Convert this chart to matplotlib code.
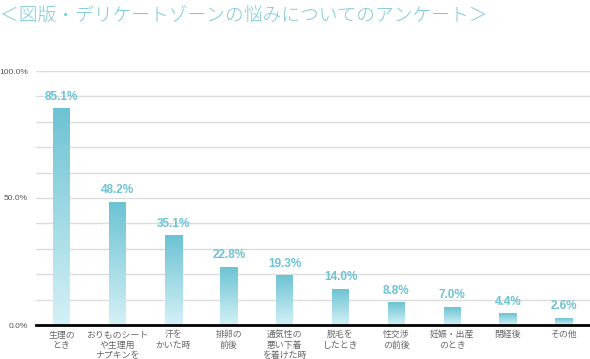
import matplotlib
matplotlib.use('Agg')
import matplotlib.pyplot as plt
import numpy as np
from matplotlib.colors import LinearSegmentedColormap

plt.rcParams['font.family'] = ['Noto Sans CJK JP', 'DejaVu Sans']

title = '＜図版・デリケートゾーンの悩みについてのアンケート＞'
categories = ['生理の\nとき', 'おりものシート\nや生理用\nナプキンを', '汗を\nかいた時',
              '排卵の\n前後', '通気性の\n悪い下着\nを着けた時', '脱毛を\nしたとき',
              '性交渉\nの前後', '妊娠・出産\nのとき', '閉経後', 'その他']
values = [85.1, 48.2, 35.1, 22.8, 19.3, 14.0, 8.8, 7.0, 4.4, 2.6]
yticks = [0, 50, 100]
ytick_labels = ['0.0%', '50.0%', '100.0%']

W, H = 590, 359
fig = plt.figure(figsize=(W / 100, H / 100), dpi=100)
ax = fig.add_axes([36 / W, 34 / H, 554 / W, 254 / H])

step = 55.8
x0 = 61.5

for y in range(10, 101, 10):
    ax.axhline(y, color='#dcdcdc', lw=1, zorder=0)
ax.axhline(0, color='black', lw=2, zorder=3, clip_on=False)

cmap = LinearSegmentedColormap.from_list('bar', ['#d4f1f6', '#6cc3d3'])
grad = np.linspace(0, 1, 256).reshape(-1, 1)
bw = 17 / step
for i, v in enumerate(values):
    ax.imshow(grad, cmap=cmap, origin='lower', aspect='auto',
              extent=(i - bw / 2, i + bw / 2, 0, v), zorder=2)
    ax.text(i, v + 2.4, '%.1f%%' % v, ha='center', va='bottom',
            fontsize=8.5, fontweight='bold', color='#6cc3d3',
            family='Liberation Sans', clip_on=False)
ax.set_xlim((36 - x0) / step, (590 - x0) / step)
ax.set_ylim(0, 100)

ax.set_xticks(range(len(categories)))
ax.set_xticklabels(categories, fontsize=6.4, color='#666666', linespacing=1.25)
ax.set_yticks(yticks)
ax.set_yticklabels(ytick_labels, fontsize=6, color='#555555', family='Liberation Sans')
ax.tick_params(axis='x', length=0, pad=3.5)
ax.tick_params(axis='y', length=0, pad=5.8)
for s in ax.spines.values():
    s.set_visible(False)

fig.text(0, 1 - 16 / H, title, fontsize=13.5, color='#7ccad8',
         fontweight='light', va='center', ha='left')

fig.savefig('out.png', dpi=100)
